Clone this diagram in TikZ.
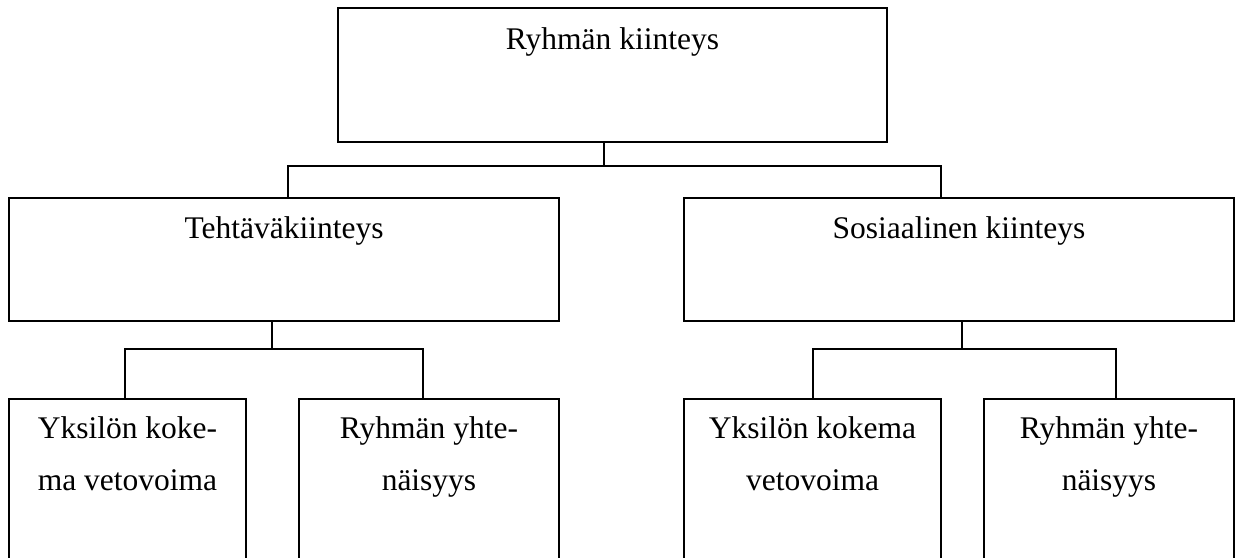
\documentclass[tikz,border=0pt]{standalone}
\usepackage{fontspec}
\setmainfont{Liberation Serif}
\begin{document}
\begin{tikzpicture}[x=0.4pt,y=-0.4pt,
  boxnode/.style={draw=black,line width=0.75pt,inner sep=0pt,rectangle},
  txt/.style={anchor=base,inner sep=0pt,font=\fontsize{12.6}{19.2}\selectfont},
  conn/.style={draw=black,line width=0.75pt}]
\useasboundingbox (0,0) rectangle (1236,558);
\clip (0,0) rectangle (1236,558);
% boxes
\node[boxnode,minimum width=219.6pt,minimum height=53.6pt] (top) at (612.5,75) {};
\node[boxnode,minimum width=220pt,minimum height=49.2pt] (A) at (284,259.5) {};
\node[boxnode,minimum width=220pt,minimum height=49.2pt] (B) at (959,259.5) {};
\node[boxnode,minimum width=94.8pt,minimum height=88pt] (Y1) at (127.5,509) {};
\node[boxnode,minimum width=104pt,minimum height=88pt] (R1) at (429,509) {};
\node[boxnode,minimum width=102.8pt,minimum height=88pt] (Y2) at (812.5,509) {};
\node[boxnode,minimum width=100pt,minimum height=88pt] (R2) at (1109,509) {};
% texts
\node[txt] (ttop) at (612.5,50) {Ryhmän kiinteys};
\node[txt] (tA) at (284,239) {Tehtäväkiinteys};
\node[txt] (tB) at (959,239) {Sosiaalinen kiinteys};
\node[txt] (tY1a) at (127.5,439) {Yksilön koke-};
\node[txt] (tY1b) at (127.5,491) {ma vetovoima};
\node[txt] (tR1a) at (429,439) {Ryhmän yhte-};
\node[txt] (tR1b) at (429,491) {näisyys};
\node[txt] (tY2a) at (812.5,439) {Yksilön kokema};
\node[txt] (tY2b) at (812.5,491) {vetovoima};
\node[txt] (tR2a) at (1109,439) {Ryhmän yhte-};
\node[txt] (tR2b) at (1109,491) {näisyys};
% junction coordinates
\coordinate (j1) at (604,166);
\coordinate (aL) at (288,166);
\coordinate (aR) at (941,166);
\coordinate (j2) at (272,349);
\coordinate (b1) at (125,349);
\coordinate (b2) at (423,349);
\coordinate (j3) at (962,349);
\coordinate (c1) at (813,349);
\coordinate (c2) at (1116,349);
% connectors
\draw[conn] (top.south -| j1) -- (j1);
\draw[conn] (A.north -| aL) -- (aL) -- (aR) -- (B.north -| aR);
\draw[conn] (A.south -| j2) -- (j2);
\draw[conn] (Y1.north -| b1) -- (b1) -- (b2) -- (R1.north -| b2);
\draw[conn] (B.south -| j3) -- (j3);
\draw[conn] (Y2.north -| c1) -- (c1) -- (c2) -- (R2.north -| c2);
\end{tikzpicture}
\end{document}
